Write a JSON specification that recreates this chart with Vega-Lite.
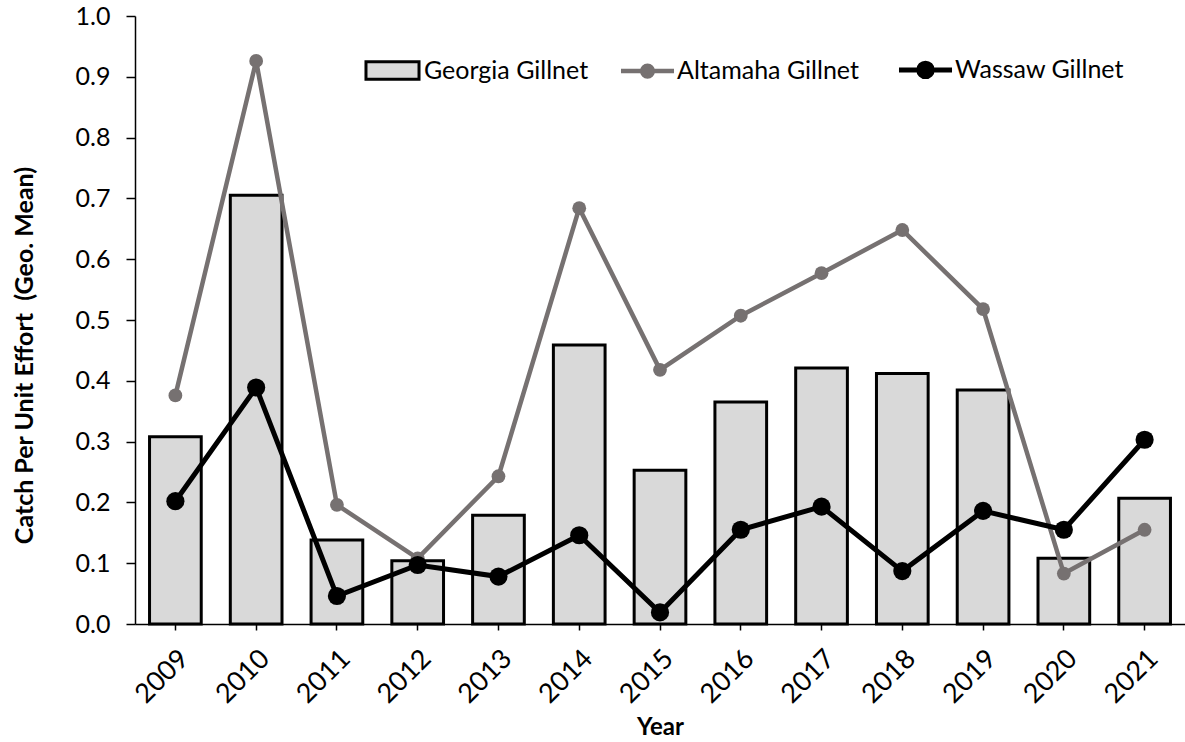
{
  "$schema": "https://vega.github.io/schema/vega-lite/v6.json",
  "width": 1050,
  "height": 608,
  "autosize": "none",
  "padding": {"left": 135, "top": 16, "right": 0, "bottom": 118},
  "background": "white",
  "config": {
    "view": {"stroke": null},
    "font": "Lato",
    "axis": {
      "domainColor": "black",
      "domainWidth": 1.5,
      "tickColor": "black",
      "tickWidth": 1.5,
      "grid": false,
      "labelFont": "Lato",
      "labelFontSize": 25,
      "labelColor": "black",
      "titleFont": "Lato",
      "titleFontWeight": "bold",
      "titleFontSize": 25,
      "titleColor": "black"
    },
    "legend": {
      "labelFont": "Lato",
      "labelFontSize": 25,
      "labelColor": "black",
      "labelLimit": 400
    }
  },
  "data": {
    "values": [
      {"year": "2009", "series": "Georgia Gillnet", "value": 0.308},
      {"year": "2010", "series": "Georgia Gillnet", "value": 0.705},
      {"year": "2011", "series": "Georgia Gillnet", "value": 0.138},
      {"year": "2012", "series": "Georgia Gillnet", "value": 0.104},
      {"year": "2013", "series": "Georgia Gillnet", "value": 0.179},
      {"year": "2014", "series": "Georgia Gillnet", "value": 0.459},
      {"year": "2015", "series": "Georgia Gillnet", "value": 0.253},
      {"year": "2016", "series": "Georgia Gillnet", "value": 0.365},
      {"year": "2017", "series": "Georgia Gillnet", "value": 0.421},
      {"year": "2018", "series": "Georgia Gillnet", "value": 0.412},
      {"year": "2019", "series": "Georgia Gillnet", "value": 0.385},
      {"year": "2020", "series": "Georgia Gillnet", "value": 0.108},
      {"year": "2021", "series": "Georgia Gillnet", "value": 0.207},
      {"year": "2009", "series": "Altamaha Gillnet", "value": 0.376},
      {"year": "2010", "series": "Altamaha Gillnet", "value": 0.926},
      {"year": "2011", "series": "Altamaha Gillnet", "value": 0.196},
      {"year": "2012", "series": "Altamaha Gillnet", "value": 0.108},
      {"year": "2013", "series": "Altamaha Gillnet", "value": 0.243},
      {"year": "2014", "series": "Altamaha Gillnet", "value": 0.684},
      {"year": "2015", "series": "Altamaha Gillnet", "value": 0.418},
      {"year": "2016", "series": "Altamaha Gillnet", "value": 0.507},
      {"year": "2017", "series": "Altamaha Gillnet", "value": 0.577},
      {"year": "2018", "series": "Altamaha Gillnet", "value": 0.648},
      {"year": "2019", "series": "Altamaha Gillnet", "value": 0.518},
      {"year": "2020", "series": "Altamaha Gillnet", "value": 0.083},
      {"year": "2021", "series": "Altamaha Gillnet", "value": 0.155},
      {"year": "2009", "series": "Wassaw Gillnet", "value": 0.202},
      {"year": "2010", "series": "Wassaw Gillnet", "value": 0.389},
      {"year": "2011", "series": "Wassaw Gillnet", "value": 0.046},
      {"year": "2012", "series": "Wassaw Gillnet", "value": 0.097},
      {"year": "2013", "series": "Wassaw Gillnet", "value": 0.078},
      {"year": "2014", "series": "Wassaw Gillnet", "value": 0.146},
      {"year": "2015", "series": "Wassaw Gillnet", "value": 0.019},
      {"year": "2016", "series": "Wassaw Gillnet", "value": 0.155},
      {"year": "2017", "series": "Wassaw Gillnet", "value": 0.193},
      {"year": "2018", "series": "Wassaw Gillnet", "value": 0.087},
      {"year": "2019", "series": "Wassaw Gillnet", "value": 0.186},
      {"year": "2020", "series": "Wassaw Gillnet", "value": 0.155},
      {"year": "2021", "series": "Wassaw Gillnet", "value": 0.303}
    ]
  },
  "encoding": {
    "x": {
      "field": "year",
      "type": "ordinal",
      "scale": {"paddingInner": 0.36, "paddingOuter": 0.18},
      "axis": {
        "title": "Year",
        "labelAngle": -45,
        "labelFontSize": 27,
        "tickSize": 6,
        "labelPadding": 15,
        "titleX": 525,
        "titleY": 103,
        "titleAlign": "center",
        "titleBaseline": "middle",
        "titleFontSize": 24
      }
    },
    "y": {
      "field": "value",
      "type": "quantitative",
      "scale": {"domain": [0, 1], "nice": false, "zero": true},
      "axis": {
        "title": "Catch Per Unit Effort\u00a0 (Geo. Mean)",
        "values": [0, 0.1, 0.2, 0.3, 0.4, 0.5, 0.6, 0.7, 0.8, 0.9, 1.0],
        "format": ".1f",
        "tickSize": 9,
        "labelPadding": 16,
        "titleX": -111,
        "titleY": 339,
        "titleAlign": "center",
        "titleBaseline": "middle"
      }
    }
  },
  "layer": [
    {
      "transform": [{"filter": "datum.series === 'Georgia Gillnet'"}],
      "mark": {"type": "bar", "stroke": "black", "strokeWidth": 3},
      "encoding": {
        "fill": {
          "field": "series",
          "type": "nominal",
          "scale": {"domain": ["Georgia Gillnet"], "range": ["#d9d9d9"]},
          "legend": {
            "title": null,
            "orient": "none",
            "direction": "horizontal",
            "legendX": 238,
            "legendY": 35,
            "symbolSize": 1250,
            "symbolType": "M-1.5,-0.5H1.5V0.5H-1.5Z",
            "symbolStrokeColor": "black",
            "symbolStrokeWidth": 3,
            "symbolOpacity": 1,
            "labelOffset": 12
          }
        }
      }
    },
    {
      "transform": [{"filter": "datum.series === 'Altamaha Gillnet'"}],
      "mark": {"type": "line", "strokeWidth": 4.5},
      "encoding": {
        "stroke": {
          "field": "series",
          "type": "nominal",
          "scale": {"domain": ["Altamaha Gillnet", "Wassaw Gillnet"], "range": ["#767171", "#000000"]},
          "legend": {
            "title": null,
            "orient": "none",
            "direction": "horizontal",
            "legendX": 500,
            "legendY": 41,
            "symbolSize": 1250,
            "labelOffset": 17,
            "columnPadding": 29,
            "symbolOpacity": 1,
            "encoding": {
              "symbols": {
                "shape": {"value": {"expr": "datum.value === 'Altamaha Gillnet' ? 'M-1.5,0H1.5M-0.3,0A0.3,0.3,0,1,0,0.3,0A0.3,0.3,0,1,0,-0.3,0' : 'M-1.5,0H1.5M-0.38,0A0.38,0.38,0,1,0,0.38,0A0.38,0.38,0,1,0,-0.38,0'"}},
                "fill": {"value": {"expr": "scale('stroke', datum.value)"}},
                "strokeWidth": {"value": {"expr": "datum.value === 'Altamaha Gillnet' ? 4.5 : 5"}}
              }
            }
          }
        }
      }
    },
    {
      "transform": [{"filter": "datum.series === 'Altamaha Gillnet'"}],
      "mark": {"type": "point", "filled": true, "opacity": 1, "size": 190},
      "encoding": {"color": {"field": "series", "type": "nominal", "scale": {"domain": ["Altamaha Gillnet", "Wassaw Gillnet"], "range": ["#767171", "#000000"]}, "legend": null}}
    },
    {
      "transform": [{"filter": "datum.series === 'Wassaw Gillnet'"}],
      "mark": {"type": "line", "strokeWidth": 5},
      "encoding": {"stroke": {"field": "series", "type": "nominal"}}
    },
    {
      "transform": [{"filter": "datum.series === 'Wassaw Gillnet'"}],
      "mark": {"type": "point", "filled": true, "opacity": 1, "size": 330},
      "encoding": {"color": {"field": "series", "type": "nominal", "legend": null}}
    }
  ]
}
